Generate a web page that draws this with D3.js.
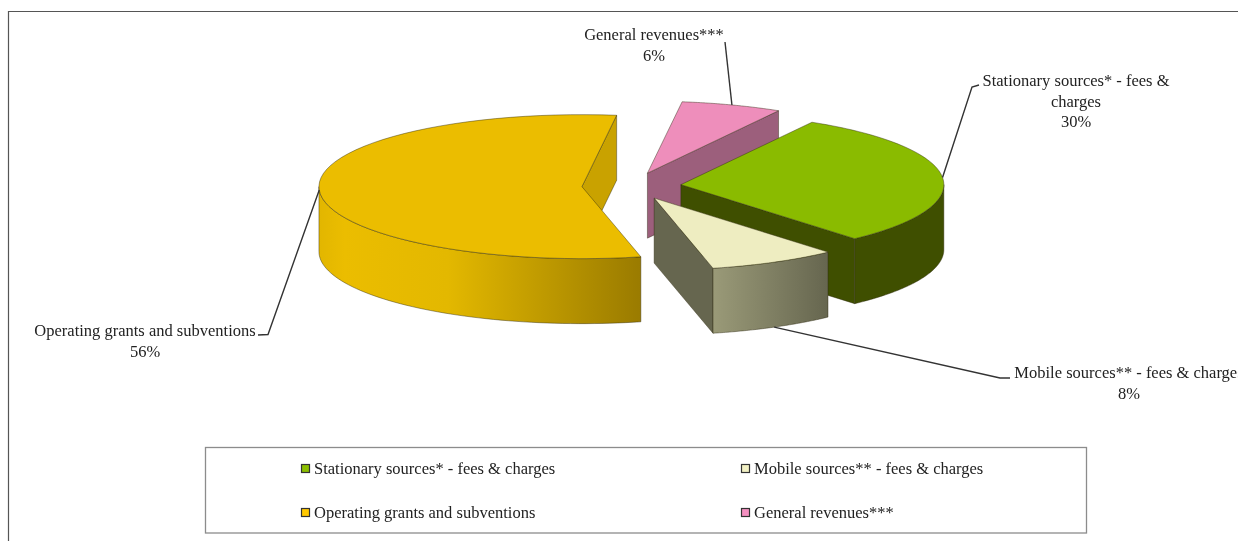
<!DOCTYPE html>
<html>
<head>
<meta charset="utf-8">
<script src="https://cdn.jsdelivr.net/npm/d3@7"></script>
<style>
  html, body { margin: 0; padding: 0; background: #fff; overflow: hidden; }
  text { font-family: "Liberation Serif", "Times New Roman", serif; font-size: 16.5px; fill: #222; }
  svg { filter: blur(0.35px); }
</style>
</head>
<body>
<div id="chart"></div>
<script>
const categories = ['Stationary sources* - fees & charges', 'Mobile sources** - fees & charges', 'Operating grants and subventions', 'General revenues***'];
const shares = [30.2, 7.9, 55.7, 6.2];
const legendColors = ['#8CBF00', '#F2F1C4', '#FFC800', '#F48FC0'];
const topColors = ['#8ABB00', '#EEEDC1', '#EBBD00', '#EE8EBB'];
const wallColors = ['#3F4F00', '#66664F', '#C9A200', '#9C5F7C'];
const rimStops = [
  [[0, '#3F4F00'], [1, '#3F4F00']],
  [[0, '#9A9A78'], [1, '#66664F']],
  [[0, '#E2B600'], [0.08, '#EBBD00'], [0.4, '#E3B800'], [1, '#9A7B00']],
  [[0, '#9C5F7C'], [1, '#9C5F7C']]
];

const width = 1238, height = 541;
const deg = Math.PI / 180;

// Pie geometry: flattened circle, every slice pushed out along its bisector
const pieCx = 631.5, pieCy = 186, rx = 263, ry = 72, depth = 65, explode = 49.6;

const svg = d3.select('#chart').append('svg')
  .attr('width', width)
  .attr('height', height)
  .style('display', 'block');

// Frame, open on the right and at the bottom
svg.append('path')
  .attr('d', `M8.5,${height}V11.5H${width}`)
  .attr('fill', 'none')
  .attr('stroke', '#555')
  .attr('stroke-width', 1.2);

const pie = d3.pie().sort(null).value(d => d.share).startAngle(29.9 * deg).endAngle(389.9 * deg);
const slices = pie(categories.map((name, i) => ({ name, share: shares[i], i })));

// angle 0 is up, clockwise, same as d3.pie
const project = (o, a, r = 1, dz = 0) => [o[0] + rx * r * Math.sin(a), o[1] - ry * r * Math.cos(a) + dz];

slices.forEach(s => {
  s.mid = (s.startAngle + s.endAngle) / 2;
  s.origin = project([pieCx, pieCy], s.mid, explode / rx);
});

const line = d3.line();
const arcPoints = (o, a0, a1, dz = 0) =>
  d3.range(0, 61).map(k => project(o, a0 + (a1 - a0) * k / 60, 1, dz));

const defs = svg.append('defs');
const edge = sel => sel.attr('stroke', '#2e2a10').attr('stroke-opacity', 0.55).attr('stroke-width', 0.8).attr('stroke-linejoin', 'round');

// Back to front
const order = slices.slice().sort((a, b) => a.origin[1] - b.origin[1]);

order.forEach(s => {
  const g = svg.append('g');
  const o = s.origin, i = s.data.i;

  // Cut wall on the closing side of the slice
  if (Math.sin(s.endAngle) > 0) {
    const p = project(o, s.endAngle);
    edge(g.append('path')
      .attr('d', line([o, p, [p[0], p[1] + depth], [o[0], o[1] + depth]]) + 'Z')
      .attr('fill', wallColors[i]));
  }

  // Outer rim, only the part that faces the viewer
  const a0 = Math.max(s.startAngle, 90 * deg), a1 = Math.min(s.endAngle, 270 * deg);
  if (a1 > a0) {
    const front = arcPoints(o, a0, a1);
    const back = arcPoints(o, a1, a0, depth);
    const xs = d3.extent(front, d => d[0]);
    const grad = defs.append('linearGradient')
      .attr('id', 'rim' + i)
      .attr('gradientUnits', 'userSpaceOnUse')
      .attr('x1', xs[0]).attr('x2', xs[1]).attr('y1', 0).attr('y2', 0);
    rimStops[i].forEach(st => grad.append('stop').attr('offset', st[0]).attr('stop-color', st[1]));
    edge(g.append('path')
      .attr('d', line(front.concat(back)) + 'Z')
      .attr('fill', `url(#rim${i})`));
  }

  // Top face
  edge(g.append('path')
    .attr('d', line([o].concat(arcPoints(o, s.startAngle, s.endAngle))) + 'Z')
    .attr('fill', topColors[i]));
});

// Data labels with leader lines; elbow and text spots per category
const labelLayout = [
  { lines: ['Stationary sources* - fees &', 'charges'], x: 1076, y: 86, elbow: [[972, 87], [979, 85]], dz: 0 },
  { lines: ['Mobile sources** - fees & charges'], x: 1129, y: 378, elbow: [[1000, 378], [1010, 378]], dz: depth },
  { lines: ['Operating grants and subventions'], x: 145, y: 336, elbow: [[268, 334.5], [258, 335]], dz: 0 },
  { lines: ['General revenues***'], x: 654, y: 40, elbow: [[725, 42]], dz: 0 }
];

slices.forEach((s, n) => {
  const lay = labelLayout[n];
  const start = project(s.origin, s.mid, 1, lay.dz);
  svg.append('path')
    .attr('d', line([start].concat(lay.elbow)))
    .attr('fill', 'none')
    .attr('stroke', '#333')
    .attr('stroke-width', 1.4);
  const t = svg.append('text').attr('text-anchor', 'middle').attr('x', lay.x).attr('y', lay.y);
  lay.lines.concat([d3.format('.0f')(s.data.share) + '%']).forEach((txt, k) => {
    t.append('tspan').attr('x', lay.x).attr('dy', k ? 20.5 : 0).text(txt);
  });
});

// Legend
svg.append('rect')
  .attr('x', 205.5).attr('y', 447.5)
  .attr('width', 881).attr('height', 85.5)
  .attr('fill', '#fff')
  .attr('stroke', '#8c8c8c')
  .attr('stroke-width', 1.3);

const legendX = d3.scaleBand().domain([0, 1]).range([301, 1181]);
const legendY = d3.scaleBand().domain([0, 1]).range([447, 535]);

categories.forEach((name, i) => {
  const lx = legendX(i % 2), ly = legendY(Math.floor(i / 2)) + legendY.bandwidth() / 2;
  svg.append('rect')
    .attr('x', lx + 0.5).attr('y', ly - 4.5)
    .attr('width', 8).attr('height', 8)
    .attr('fill', legendColors[i])
    .attr('stroke', '#333')
    .attr('stroke-width', 1.2);
  svg.append('text').attr('x', lx + 13).attr('y', ly + 4.5).text(name);
});
</script>
</body>
</html>
